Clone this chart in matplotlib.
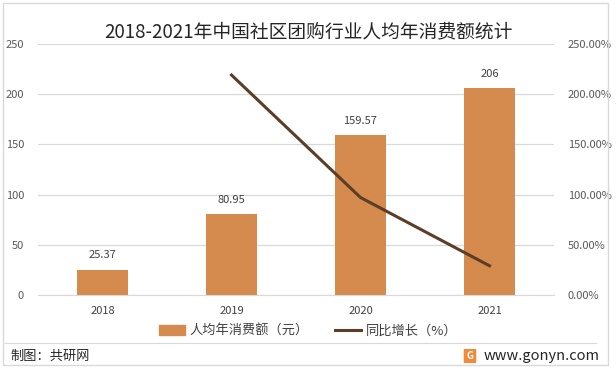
import matplotlib
matplotlib.use("Agg")
import matplotlib.pyplot as plt
from matplotlib.patches import Rectangle, FancyBboxPatch
from matplotlib.lines import Line2D
from matplotlib.ticker import FuncFormatter, MultipleLocator

plt.rcParams['font.family'] = ['Noto Sans CJK SC', 'DejaVu Sans']

years = ["2018", "2019", "2020", "2021"]
spend = [25.37, 80.95, 159.57, 206]
growth_years = ["2019", "2020", "2021"]
growth = [219.08, 97.12, 29.10]

title = "2018-2021年中国社区团购行业人均年消费额统计"
bar_color = "#D48B4D"
line_color = "#5C3D27"
tick_color = "#595959"

W, H = 616, 372
fig = plt.figure(figsize=(W / 100, H / 100), dpi=100)
fig.patch.set_facecolor("white")

def fx(px):
    return px / W

def fy(py):
    return 1 - py / H

ax = fig.add_axes([fx(38), fy(295), fx(554) - fx(38), fy(44) - fy(295)])
x = list(range(len(years)))
ax.bar(x, spend, width=0.4, color=bar_color, zorder=2)
ax.set_xlim(-0.5, 3.5)
ax.set_ylim(0, 250)
ax.yaxis.set_major_locator(MultipleLocator(50))
ax.grid(axis="y", color="#D9D9D9", linewidth=0.9, zorder=0)
for s in ax.spines.values():
    s.set_visible(False)
ax.spines["bottom"].set_visible(True)
ax.spines["bottom"].set_color("#D9D9D9")
ax.tick_params(axis="both", length=0, labelsize=8, colors=tick_color)
ax.tick_params(axis="y", pad=10)
ax.tick_params(axis="x", pad=8)
ax.set_xticks(x)
ax.set_xticklabels(years, color="#404040")
ax.yaxis.set_major_formatter(FuncFormatter(lambda v, p: f"{int(v)}"))
for xi, v in zip(x, spend):
    ax.text(xi, v + 9, f"{v:g}", ha="center", va="bottom", fontsize=8, color="#404040")

ax2 = ax.twinx()
ax2.set_ylim(0, 250)
ax2.yaxis.set_major_locator(MultipleLocator(50))
gx = [years.index(y) for y in growth_years]
ax2.plot(gx, growth, color=line_color, linewidth=2.2, zorder=3)
for s in ax2.spines.values():
    s.set_visible(False)
ax2.tick_params(axis="y", length=0, labelsize=8, colors=tick_color, pad=10)
ax2.yaxis.set_major_formatter(FuncFormatter(lambda v, p: f"{v:.2f}%"))

fig.text(0.5, fy(32), title, ha="center", va="center", fontsize=13.5, color="#262626")

handles = [Rectangle((0, 0), 1, 1, color=bar_color),
           Line2D([0], [0], color=line_color, linewidth=2.2)]
fig.legend(handles, ["人均年消费额（元）", "同比增长（%）"], loc="center",
           bbox_to_anchor=(0.5, fy(331)), ncol=2, frameon=False, fontsize=9.5,
           handlelength=2.0, handleheight=0.8, columnspacing=2.0, handletextpad=0.3,
           labelcolor="#404040")

fig.add_artist(Line2D([fx(5), fx(596)], [fy(343), fy(343)], color="#D9D9D9", linewidth=0.8))
fig.text(fx(10), fy(356), "制图：共研网", ha="left", va="center", fontsize=9.5, color="#262626")
fig.text(fx(484), fy(356), "www.gonyn.com", ha="left", va="center", fontsize=10.5, color="#262626")
fig.add_artist(FancyBboxPatch((fx(465), fy(362)), fx(10), fy(350) - fy(362),
                              boxstyle="round,pad=0.001", color="#F08A3C"))
fig.text(fx(470), fy(356), "G", ha="center", va="center", fontsize=7, color="white",
         fontweight="bold")
fig.add_artist(Rectangle((fx(3), fy(365)), fx(608) - fx(3), fy(3) - fy(365),
                         fill=False, edgecolor="#D9D9D9", linewidth=1))

fig.savefig("out.png", dpi=100)
